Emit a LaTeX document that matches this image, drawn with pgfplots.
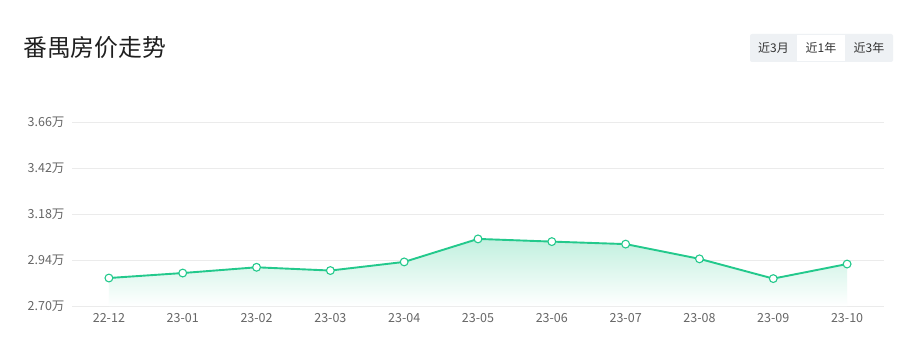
\documentclass[border=0pt]{standalone}
\usepackage{fontspec}
\setmainfont{Noto Sans CJK SC}
\usepackage{pgfplots}
\pgfplotsset{compat=1.18}
\definecolor{linegreen}{HTML}{23C98C}
\definecolor{gridgray}{HTML}{EBEBEB}
\definecolor{labelgray}{HTML}{666666}
\definecolor{btngray}{HTML}{EEF1F4}
\begin{document}
\begin{tikzpicture}
\useasboundingbox (0pt,0pt) rectangle (909pt,359pt);
\fill[white] (0pt,0pt) rectangle (909pt,359pt);
\node[anchor=west, inner sep=0pt, font=\fontsize{23.8}{26}\selectfont, text=black!88] at (23pt,311pt) {番禺房价走势};
\fill[btngray, rounded corners=2pt] (750pt,297pt) rectangle (893pt,325pt);
\fill[white] (797pt,298pt) rectangle (845pt,324pt);
\node[font=\fontsize{12}{14}\selectfont, text=black!80] at (773.5pt,311pt) {近3月};
\node[font=\fontsize{12}{14}\selectfont, text=black!80] at (821pt,311pt) {近1年};
\node[font=\fontsize{12}{14}\selectfont, text=black!80] at (869pt,311pt) {近3年};
\begin{axis}[
  at={(72pt,53pt)}, anchor=south west,
  scale only axis, width=812pt, height=184pt,
  xmin=-0.5, xmax=10.5, ymin=2.70, ymax=3.66,
  axis line style={draw=none},
  major tick length=0pt,
  xtick={0,...,10},
  xticklabels={22-12,23-01,23-02,23-03,23-04,23-05,23-06,23-07,23-08,23-09,23-10},
  ytick={2.70,2.94,3.18,3.42,3.66},
  yticklabels={2.70万,2.94万,3.18万,3.42万,3.66万},
  ymajorgrids, grid style={gridgray, line width=0.8pt},
  ticklabel style={font=\fontsize{12.5}{14}\selectfont, text=labelgray},
  yticklabel style={xshift=-4pt},
  xticklabel style={yshift=-4pt},
  clip=false,
]
\addplot[draw=none, top color=linegreen!28, bottom color=white, forget plot]
  table {
x y
0 2.846
1 2.872
2 2.902
3 2.885
4 2.930
5 3.050
6 3.036
7 3.023
8 2.946
9 2.843
10 2.919
10 2.70
0 2.70
} -- cycle;
\addplot[linegreen, line width=1.9pt,
  mark=*, mark size=3.9pt, mark options={fill=white, draw=linegreen, line width=1.1pt}]
  table {
x y
0 2.846
1 2.872
2 2.902
3 2.885
4 2.930
5 3.050
6 3.036
7 3.023
8 2.946
9 2.843
10 2.919
};
\end{axis}
\end{tikzpicture}
\end{document}
